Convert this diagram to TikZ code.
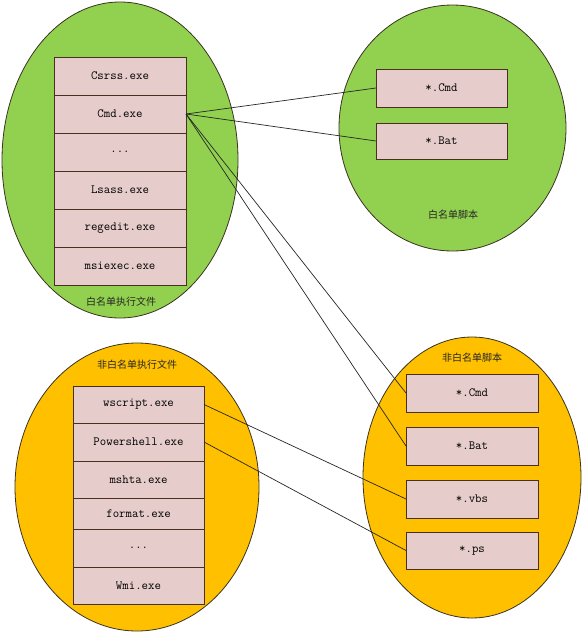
\documentclass[tikz,border=0pt]{standalone}
\usepackage{fontspec}
\newfontfamily\cjk{Noto Sans CJK SC}
\usetikzlibrary{shapes.geometric}
\definecolor{lgreen}{HTML}{92D050}
\definecolor{lorange}{HTML}{FFC000}
\definecolor{pinkbox}{HTML}{E6CDCB}
\definecolor{edgedark}{HTML}{3A3320}
\definecolor{boxedge}{HTML}{4A3020}
\tikzset{
  grp/.style={ellipse, draw=edgedark, line width=0.8pt, inner sep=0pt, outer sep=0pt},
  gbox/.style={draw=boxedge, fill=pinkbox, line width=0.9pt, inner sep=0pt, outer sep=0pt,
     minimum width=#1, font=\ttfamily\fontsize{12.5}{14}\selectfont},
  gbox/.default=132pt,
  lab/.style={font=\cjk\fontsize{10}{12}\selectfont, text=black!85},
  link/.style={draw=black!85, line width=0.7pt}
}
\begin{document}
\begin{tikzpicture}[x=1pt,y=-1pt]
\useasboundingbox (0,0) rectangle (583,632);
% ellipses
\node[grp, fill=lgreen, minimum width=236pt, minimum height=316pt] (e1) at (120,160) {};
\node[grp, fill=lgreen, minimum width=227pt, minimum height=246pt] (e2) at (452.5,128) {};
\node[grp, fill=lorange, minimum width=244pt, minimum height=288pt] (e3) at (137,487) {};
\node[grp, fill=lorange, minimum width=218pt, minimum height=281pt] (e4) at (472,477.5) {};
% labels
\node[lab] (l1) at (121,302) {白名单执行文件};
\node[lab] (l2) at (453,215) {白名单脚本};
\node[lab] (l3) at (137,365) {非白名单执行文件};
\node[lab] (l4) at (472,358) {非白名单脚本};
% top-left stack
\node[gbox, minimum height=38pt] (csrss) at (120,76) {Csrss.exe};
\node[gbox, minimum height=38pt] (cmd) at (120,114) {Cmd.exe};
\node[gbox, minimum height=38pt] (dots1) at (120,152) {...};
\node[gbox, minimum height=38pt] (lsass) at (120,190) {Lsass.exe};
\node[gbox, minimum height=38pt] (regedit) at (120,228) {regedit.exe};
\node[gbox, minimum height=38pt] (msiexec) at (120,266) {msiexec.exe};
% top-right
\node[gbox=131pt, minimum height=38pt] (wcmd) at (441.5,88) {*.Cmd};
\node[gbox=131pt, minimum height=36pt] (wbat) at (441.5,141) {*.Bat};
% bottom-left stack
\node[gbox=131pt, minimum height=37pt] (wscript) at (138.5,404.5) {wscript.exe};
\node[gbox=131pt, minimum height=38pt] (powershell) at (138.5,442) {Powershell.exe};
\node[gbox=131pt, minimum height=37pt] (mshta) at (138.5,479.5) {mshta.exe};
\node[gbox=131pt, minimum height=31pt] (format) at (138.5,513.5) {format.exe};
\node[gbox=131pt, minimum height=38pt] (dots2) at (138.5,548) {...};
\node[gbox=131pt, minimum height=37pt] (wmi) at (138.5,585.5) {Wmi.exe};
% bottom-right
\node[gbox, minimum height=38pt] (ncmd) at (472,393) {*.Cmd};
\node[gbox, minimum height=38pt] (nbat) at (472,446) {*.Bat};
\node[gbox, minimum height=38pt] (nvbs) at (472,499) {*.vbs};
\node[gbox, minimum height=37pt] (nps) at (472,550.5) {*.ps};
% connectors
\draw[link] (cmd.east) -- (wcmd.west);
\draw[link] (cmd.east) -- (wbat.west);
\draw[link] (cmd.east) -- (ncmd.west);
\draw[link] (cmd.east) -- (nbat.west);
\draw[link] (wscript.east) -- (nvbs.west);
\draw[link] (powershell.east) -- (nps.west);
\end{tikzpicture}
\end{document}
